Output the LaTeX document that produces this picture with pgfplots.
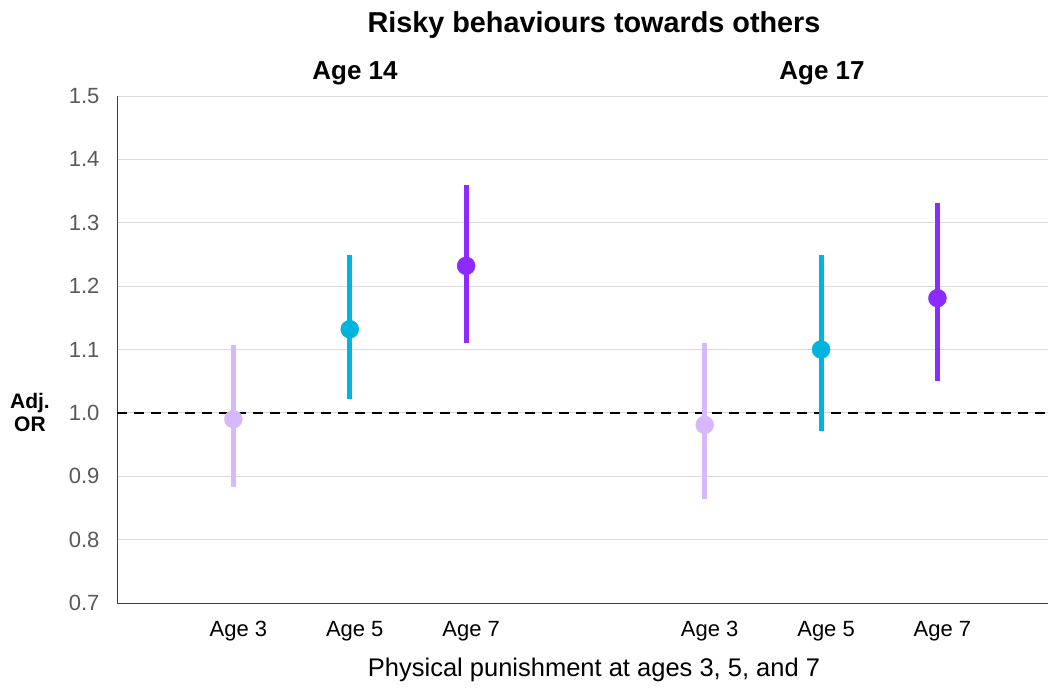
\documentclass[border=0pt]{standalone}
\usepackage{fontspec}
\setmainfont{Liberation Sans}
\usepackage{pgfplots}
\pgfplotsset{compat=1.18}
\definecolor{lav}{HTML}{D5B9FA}
\definecolor{cy}{HTML}{00B4E0}
\definecolor{pu}{HTML}{8C2BFF}
\definecolor{tickgray}{HTML}{595959}
\definecolor{gridgray}{HTML}{D9D9D9}
\begin{document}
\begin{tikzpicture}
\begin{axis}[
  at={(0,0)}, anchor=south west,
  scale only axis, width=931pt, height=507pt,
  xmin=0, xmax=8, ymin=0.7, ymax=1.5,
  ytick={0.7,0.8,...,1.5},
  yticklabel style={/pgf/number format/fixed,/pgf/number format/fixed zerofill,/pgf/number format/precision=1, font=\fontsize{22}{26}\selectfont, text=tickgray},
  /pgf/number format/assume math mode=true,
  xtick={1,2,3,5.05,6.05,7.05},
  xticklabels={Age 3,Age 5,Age 7,Age 3,Age 5,Age 7},
  xticklabel style={font=\fontsize{22}{26}\selectfont, yshift=-15pt, xshift=5pt},
  major tick length=0pt,
  ymajorgrids, grid style={gridgray, line width=1pt},
  axis x line*=bottom, axis y line*=left,
  axis line style={draw=black!75, line width=1pt},
  yticklabel style={xshift=-14pt},
  clip=false,
]
\addplot[draw=none] coordinates {(0,1.5)};
\draw[black, dashed, line width=1.6pt, dash pattern=on 10pt off 7pt] (axis cs:0,1.0) -- (axis cs:8,1.0);
\addplot[draw=none, only marks, mark=none,
  error bars/.cd, y dir=both, y explicit, error mark=none, error bar style={line width=5pt, lav}]
  coordinates {(1,0.99) += (0,0.117) -= (0,0.107) (5.05,0.981) += (0,0.129) -= (0,0.117)};
\addplot[draw=none, only marks, mark=none,
  error bars/.cd, y dir=both, y explicit, error mark=none, error bar style={line width=5pt, cy}]
  coordinates {(2,1.132) += (0,0.117) -= (0,0.110) (6.05,1.100) += (0,0.149) -= (0,0.129)};
\addplot[draw=none, only marks, mark=none,
  error bars/.cd, y dir=both, y explicit, error mark=none, error bar style={line width=5pt, pu}]
  coordinates {(3,1.232) += (0,0.127) -= (0,0.122) (7.05,1.181) += (0,0.150) -= (0,0.131)};
\addplot[only marks, mark=*, mark size=9pt, mark options={draw=lav, fill=lav}]
  coordinates {(1,0.99) (5.05,0.981)};
\addplot[only marks, mark=*, mark size=9pt, mark options={draw=cy, fill=cy}]
  coordinates {(2,1.132) (6.05,1.100)};
\addplot[only marks, mark=*, mark size=9pt, mark options={draw=pu, fill=pu}]
  coordinates {(3,1.232) (7.05,1.181)};
\end{axis}
\node[font=\fontsize{28.8}{33}\selectfont\bfseries] at (477pt,578pt) {Risky behaviours towards others};
\node[font=\fontsize{26}{30}\selectfont\bfseries] at (238pt,530pt) {Age 14};
\node[font=\fontsize{26}{30}\selectfont\bfseries] at (705pt,530pt) {Age 17};
\node[font=\fontsize{25.5}{30}\selectfont] at (477pt,-67pt) {Physical punishment at ages 3, 5, and 7};
\node[font=\fontsize{21}{25}\selectfont\bfseries, align=center] at (-87pt,191pt) {Adj.\\[-2pt]OR};
\pgfresetboundingbox
\path (-117pt,-85pt) rectangle (931pt,603pt);
\end{tikzpicture}
\end{document}
